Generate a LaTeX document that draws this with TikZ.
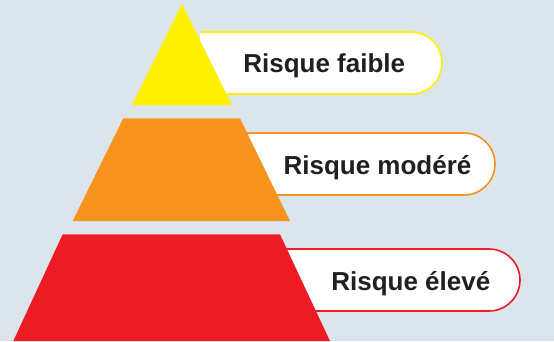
\documentclass[tikz,border=0pt]{standalone}
\usepackage{fontspec}
\setmainfont{Liberation Sans}
\definecolor{bgc}{HTML}{DCE4EC}
\definecolor{ylw}{HTML}{FFF200}
\definecolor{org}{HTML}{F7941D}
\definecolor{rd}{HTML}{ED1C24}
\definecolor{txt}{HTML}{231F20}
\begin{document}
\begin{tikzpicture}[x=1pt,y=-1pt,
  lab/.style={fill=white,line width=1.6pt,rounded corners=31pt},
  labtext/.style={anchor=base,text=txt,font=\bfseries\fontsize{26}{30}\selectfont,inner sep=0pt}]
\fill[bgc] (0,0) rectangle (554,341);
\useasboundingbox (0,0) rectangle (554,341);
% labels
\draw[lab,draw=ylw] (200,32) -- (442,32) -- (442,94) -- (200,94);
\draw[lab,draw=org] (200,133) -- (495,133) -- (495,195) -- (200,195);
\draw[lab,draw=rd] (250,249) -- (520,249) -- (520,311) -- (250,311);
% pyramid
\fill[ylw] (182,4) -- (232,105) -- (132,105) -- cycle;
\fill[org] (123.3,118.3) -- (240,118.3) -- (290,221) -- (72.7,221) -- cycle;
\fill[rd] (62.7,234.3) -- (280,234.3) -- (330,341) -- (13.3,341) -- cycle;
% texts
\node[labtext] (t1) at (324.2,72.7) {Risque faible};
\node[labtext] (t2) at (377.5,174) {Risque modéré};
\node[labtext] (t3) at (410.8,290) {Risque élevé};
\end{tikzpicture}
\end{document}
